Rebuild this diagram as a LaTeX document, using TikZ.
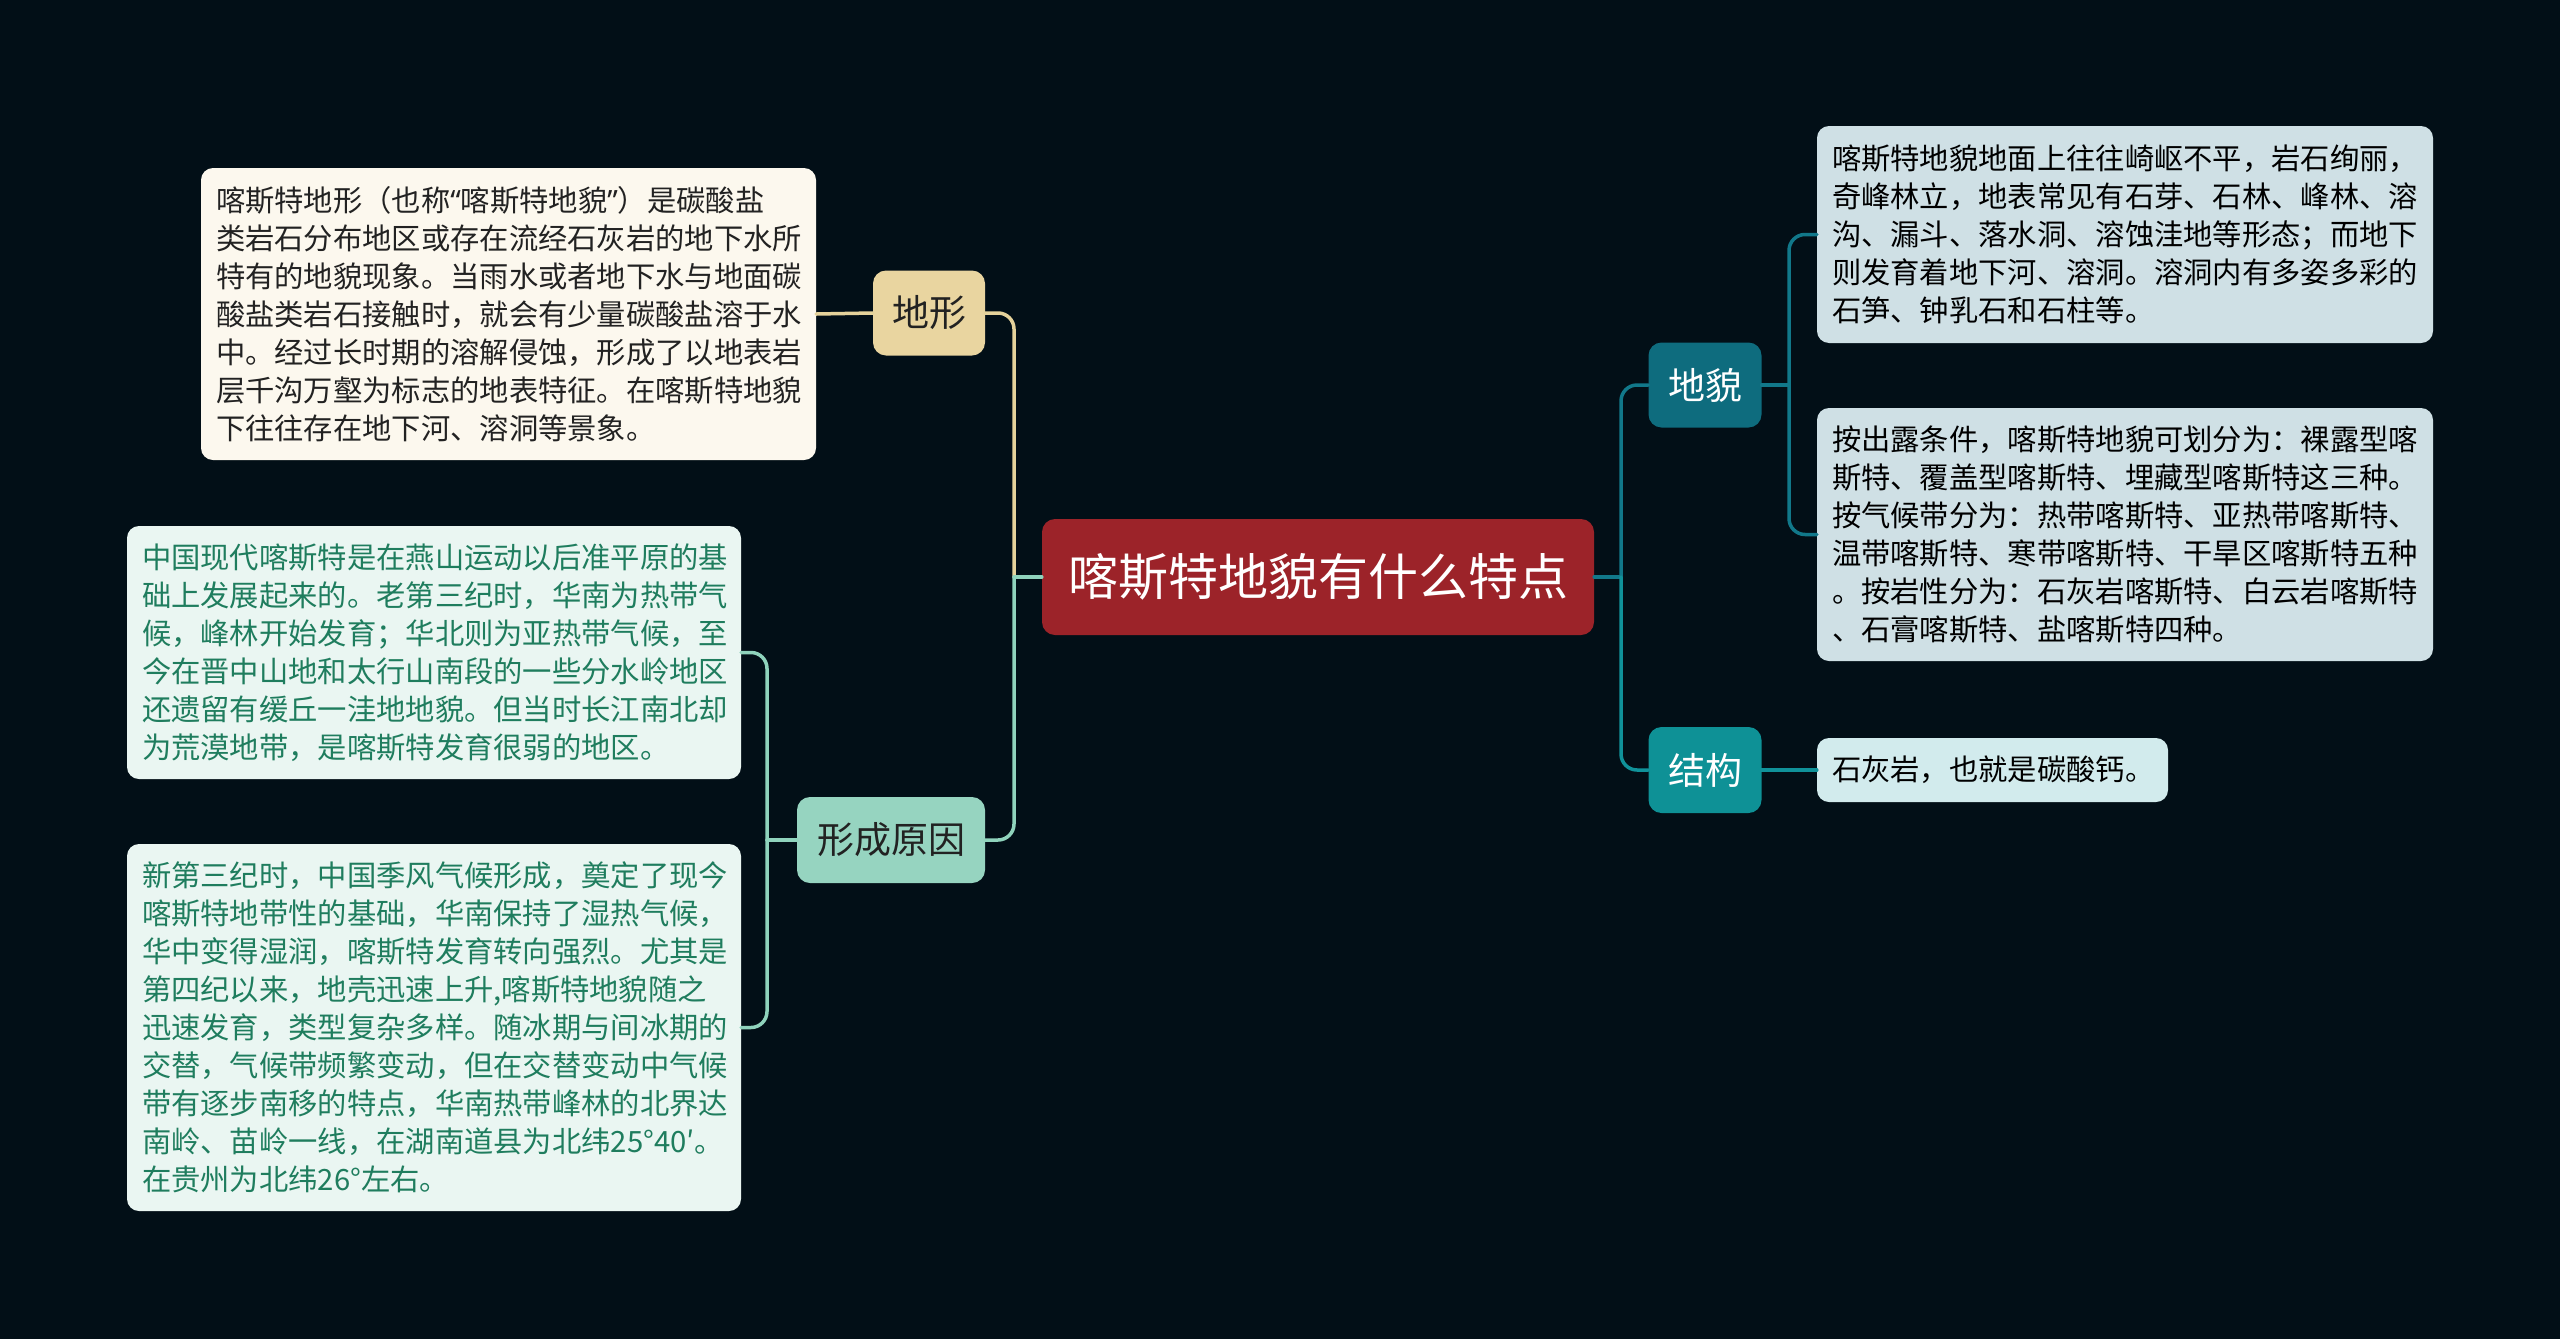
\documentclass[tikz,border=0pt]{standalone}
\usepackage{fontspec}
\setmainfont{Noto Sans CJK SC}
\newfontfamily\qfont{Noto Sans}
\definecolor{bg}{HTML}{020F17}
\definecolor{rootred}{HTML}{9C2329}
\definecolor{tanfill}{HTML}{E9D5A0}
\definecolor{cream}{HTML}{FCF8EE}
\definecolor{mintfill}{HTML}{96D4C0}
\definecolor{mintleaf}{HTML}{EAF6F2}
\definecolor{greentext}{HTML}{1F7D5E}
\definecolor{dmfill}{HTML}{0E6C7E}
\definecolor{dmleaf}{HTML}{CFE0E5}
\definecolor{jgfill}{HTML}{0E9196}
\definecolor{jgleaf}{HTML}{D2EBED}
\definecolor{darktext}{HTML}{222222}
\definecolor{tanline}{HTML}{E5D29B}
\definecolor{mintline}{HTML}{8FD3BC}
\definecolor{dmline}{HTML}{11788A}
\definecolor{jgline}{HTML}{10929A}
\begin{document}
\begin{tikzpicture}[x=1pt,y=-1pt,
  box/.style={rounded corners=13, inner sep=0, align=center},
  topic/.style={box, minimum height=85, font=\fontsize{37}{42}\selectfont},
  leaf/.style={rounded corners=12, inner xsep=15, inner ysep=0, align=left, font=\fontsize{29.3}{38}\selectfont},
  conn/.style={line width=3.5, line cap=round},
]
\fill[bg] (0,0) rectangle (2560,1339);
\useasboundingbox (0,0) rectangle (2560,1339);

\node[box, fill=rootred, text=white, minimum width=552, minimum height=116, font=\fontsize{50}{56}\selectfont] (root) at (1318,577) {喀斯特地貌有什么特点};

\node[topic, fill=tanfill, text=darktext, minimum width=112] (dx) at (929,313) {地形};
\node[topic, fill=mintfill, text=darktext, minimum width=188, minimum height=86] (xc) at (891,840) {形成原因};
\node[topic, fill=dmfill, text=white, minimum width=113] (dm) at (1705,385) {地貌};
\node[topic, fill=jgfill, text=white, minimum width=113, minimum height=86] (jg) at (1705,770) {结构};

\node[leaf, fill=cream, text=darktext, text width=585, minimum height=292] (dxl) at (508.5,314) {喀斯特地形（也称{\qfont “}喀斯特地貌{\qfont ”}）是碳酸盐\\类岩石分布地区或存在流经石灰岩的地下水所\\特有的地貌现象。当雨水或者地下水与地面碳\\酸盐类岩石接触时，就会有少量碳酸盐溶于水\\中。经过长时期的溶解侵蚀，形成了以地表岩\\层千沟万壑为标志的地表特征。在喀斯特地貌\\下往往存在地下河、溶洞等景象。};

\node[leaf, fill=mintleaf, text=greentext, text width=584, minimum height=253] (xc1) at (434,652.5) {中国现代喀斯特是在燕山运动以后准平原的基\\础上发展起来的。老第三纪时，华南为热带气\\候，峰林开始发育；华北则为亚热带气候，至\\今在晋中山地和太行山南段的一些分水岭地区\\还遗留有缓丘一洼地地貌。但当时长江南北却\\为荒漠地带，是喀斯特发育很弱的地区。};

\node[leaf, fill=mintleaf, text=greentext, text width=584, minimum height=367] (xc2) at (434,1027.5) {新第三纪时，中国季风气候形成，奠定了现今\\喀斯特地带性的基础，华南保持了湿热气候，\\华中变得湿润，喀斯特发育转向强烈。尤其是\\第四纪以来，地壳迅速上升,喀斯特地貌随之\\迅速发育，类型复杂多样。随冰期与间冰期的\\交替，气候带频繁变动，但在交替变动中气候\\带有逐步南移的特点，华南热带峰林的北界达\\南岭、苗岭一线，在湖南道县为北纬25°40′。\\在贵州为北纬26°左右。};

\node[leaf, fill=dmleaf, text=black, text width=586, minimum height=217] (dm1) at (2125,234.5) {喀斯特地貌地面上往往崎岖不平，岩石绚丽，\\奇峰林立，地表常见有石芽、石林、峰林、溶\\沟、漏斗、落水洞、溶蚀洼地等形态；而地下\\则发育着地下河、溶洞。溶洞内有多姿多彩的\\石笋、钟乳石和石柱等。};

\node[leaf, fill=dmleaf, text=black, text width=586, minimum height=253] (dm2) at (2125,534.5) {按出露条件，喀斯特地貌可划分为：裸露型喀\\斯特、覆盖型喀斯特、埋藏型喀斯特这三种。\\按气候带分为：热带喀斯特、亚热带喀斯特、\\温带喀斯特、寒带喀斯特、干旱区喀斯特五种\\。按岩性分为：石灰岩喀斯特、白云岩喀斯特\\、石膏喀斯特、盐喀斯特四种。};

\node[leaf, fill=jgleaf, text=black, text width=321, minimum height=64] (jgl) at (1992.5,770) {石灰岩，也就是碳酸钙。};

% connectors left
\coordinate (jl) at (1014,577);
\draw[conn, tanline, rounded corners=16] (dx.east) -| (jl);
\draw[conn, mintline, rounded corners=16] (xc.east) -| (jl);
\draw[conn, mintline] (jl) -- (root.west);
\draw[conn, tanline] (dxl.east) -- (dx.west);

\coordinate (jx) at (767,840);
\draw[conn, mintline] (xc.west) -- (jx);
\draw[conn, mintline, rounded corners=16] (jx) |- (xc1.east);
\draw[conn, mintline, rounded corners=16] (jx) |- (xc2.east);

% connectors right
\coordinate (jr) at (1621,577);
\draw[conn, dmline] (root.east) -- (jr);
\draw[conn, dmline, rounded corners=16] (jr) |- (dm.west);
\draw[conn, jgline, rounded corners=16] (jr) |- (jg.west);

\coordinate (jd) at (1789,385);
\draw[conn, dmline] (dm.east) -- (jd);
\draw[conn, dmline, rounded corners=16] (jd) |- (dm1.west);
\draw[conn, dmline, rounded corners=16] (jd) |- (dm2.west);
\draw[conn, jgline] (jg.east) -- (jgl.west);
\end{tikzpicture}
\end{document}
